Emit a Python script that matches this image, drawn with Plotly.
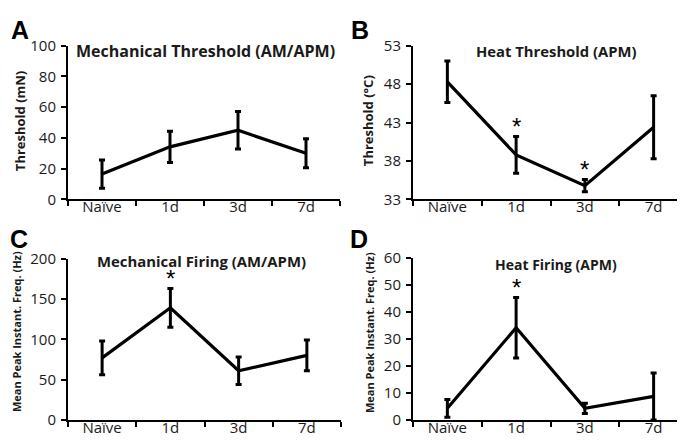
import plotly.graph_objects as go

categories = ["Naïve", "1d", "3d", "7d"]

mech_thr = [16.5, 34.2, 45.0, 30.0]
mech_thr_err = [9.2, 10.2, 12.2, 9.4]

heat_thr = [48.3, 38.8, 34.8, 42.4]
heat_thr_err = [2.7, 2.4, 0.8, 4.1]

mech_fire = [77.0, 139.0, 61.0, 80.0]
mech_fire_err = [21.0, 24.0, 17.0, 19.0]

heat_fire = [4.3, 34.1, 4.3, 8.7]
heat_fire_err = [3.3, 11.2, 1.9, 8.7]

stars_A = []
stars_B = ["1d", "3d"]
stars_C = ["1d"]
stars_D = ["1d"]

panels = [
    dict(letter="A", title="Mechanical Threshold (AM/APM)", ytitle="Threshold (mN)",
         y=mech_thr, e=mech_thr_err, stars=stars_A, rng=[0, 100],
         ticks=[0, 20, 40, 60, 80, 100]),
    dict(letter="B", title="Heat Threshold (APM)", ytitle="Threshold (°C)",
         y=heat_thr, e=heat_thr_err, stars=stars_B, rng=[33, 53],
         ticks=[33, 38, 43, 48, 53]),
    dict(letter="C", title="Mechanical Firing (AM/APM)", ytitle="Mean Peak Instant. Freq. (Hz)",
         y=mech_fire, e=mech_fire_err, stars=stars_C, rng=[0, 200],
         ticks=[0, 50, 100, 150, 200]),
    dict(letter="D", title="Heat Firing (APM)", ytitle="Mean Peak Instant. Freq. (Hz)",
         y=heat_fire, e=heat_fire_err, stars=stars_D, rng=[0, 60],
         ticks=[0, 10, 20, 30, 40, 50, 60]),
]

W, H = 685, 441
# pixel boxes (left, right, top, bottom)
boxes = [(60, 332, 28, 189), (405, 680, 28, 189), (60, 333, 251, 420), (405, 680, 250, 420)]
title_pos = [(197, 33), (548, 33), (193, 254), (548, 257)]
title_size = [16, 14.8, 14.9, 14]
ytitle_pos = [(12, 107), (360, 107), (8, 328), (361, 328)]
ytitle_size = [13, 13, 11, 11]
letter_pos = [(12, 11), (352, 12), (11, 230), (351, 230)]

FONT = "Open Sans"
TXT = "#1a1a1a"
fig = go.Figure()
annotations = []
for i, (p, b) in enumerate(zip(panels, boxes)):
    n = i + 1
    xa = "x" if n == 1 else f"x{n}"
    ya = "y" if n == 1 else f"y{n}"
    fig.add_trace(go.Scatter(
        x=categories, y=p["y"], mode="lines",
        line=dict(color="black", width=3.2),
        error_y=dict(type="data", array=p["e"], visible=True, color="black",
                     thickness=3, width=3),
        xaxis=xa, yaxis=ya, showlegend=False, hoverinfo="skip"))
    l, r, t, bt = b
    xd = [l / W, r / W]
    yd = [1 - bt / H, 1 - t / H]
    axkey = "xaxis" if n == 1 else f"xaxis{n}"
    aykey = "yaxis" if n == 1 else f"yaxis{n}"
    fig.update_layout(**{
        axkey: dict(domain=xd, anchor=ya, type="category", range=[-0.5, 3.5],
                    showline=True, linecolor="black", linewidth=2,
                    ticks="outside", tickson="boundaries", ticklen=5, tickwidth=2,
                    tickcolor="black", showgrid=False, zeroline=False,
                    ticklabelstandoff=-7,
                    tickfont=dict(family=FONT, size=15, color=TXT)),
        aykey: dict(domain=yd, anchor=xa, range=p["rng"], tickvals=p["ticks"],
                    showline=True, linecolor="black", linewidth=2,
                    ticks="outside", ticklen=5, tickwidth=2, tickcolor="black",
                    showgrid=False, zeroline=False, ticklabelstandoff=2,
                    tickfont=dict(family=FONT, size=15, color=TXT)),
    })
    tx, ty = title_pos[i]
    annotations.append(dict(text=f"<b>{p['title']}</b>", xref="paper", yref="paper",
                            x=tx / W, y=1 - ty / H,
                            xanchor="center", yanchor="middle", showarrow=False,
                            font=dict(family=FONT, size=title_size[i], color=TXT)))
    yx, yy = ytitle_pos[i]
    annotations.append(dict(text=f"<b>{p['ytitle']}</b>", xref="paper", yref="paper",
                            x=yx / W, y=1 - yy / H, textangle=-90,
                            xanchor="center", yanchor="middle", showarrow=False,
                            font=dict(family=FONT, size=ytitle_size[i], color=TXT)))
    lx, ly = letter_pos[i]
    annotations.append(dict(text=f"<b>{p['letter']}</b>", xref="paper", yref="paper",
                            x=lx / W, y=1 - ly / H, xanchor="center", yanchor="middle",
                            showarrow=False,
                            font=dict(family="Liberation Sans", size=25, color="black")))
    for s in p["stars"]:
        k = categories.index(s)
        annotations.append(dict(text="*", xref=xa, yref=ya, x=s,
                                y=p["y"][k] + p["e"][k], xanchor="center",
                                yanchor="middle", yshift=10, showarrow=False,
                                font=dict(family="Liberation Sans", size=24, color="black")))

fig.update_layout(width=W, height=H, margin=dict(l=0, r=0, t=0, b=0),
                  plot_bgcolor="white", paper_bgcolor="white",
                  annotations=annotations)
fig.write_html("out.html")
